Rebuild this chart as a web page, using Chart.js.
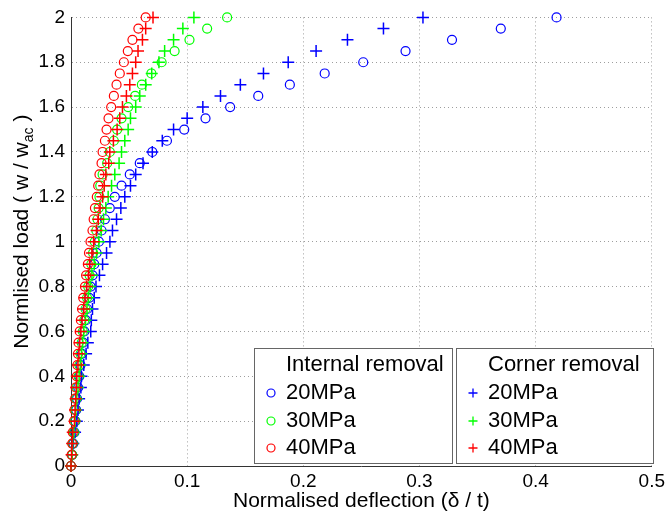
<!DOCTYPE html>
<html>
<head>
<meta charset="utf-8">
<script src="https://cdn.jsdelivr.net/npm/chart.js@4/dist/chart.umd.min.js"></script>
<style>
  html, body { margin: 0; padding: 0; background: #fff; }
  #wrap { width: 669px; height: 515px; }
</style>
</head>
<body>
<div id="wrap"><canvas id="chart" width="669" height="515"></canvas></div>
<script>
// normalised load levels (y)
const loads = [0, 0.05, 0.1, 0.15, 0.2, 0.25, 0.3, 0.35, 0.4, 0.45, 0.5, 0.55, 0.6, 0.65, 0.7, 0.75, 0.8, 0.85, 0.9, 0.95,
               1, 1.05, 1.1, 1.15, 1.2, 1.25, 1.3, 1.35, 1.4, 1.45, 1.5, 1.55, 1.6, 1.65, 1.7, 1.75, 1.8, 1.85, 1.9, 1.95, 2];

// normalised deflection, internal removal
const internal20 = [0, 0.001, 0.002, 0.003, 0.0038, 0.0045, 0.0052, 0.0062, 0.0072, 0.0082, 0.0094, 0.0105, 0.0115, 0.0128, 0.014, 0.0157, 0.0169, 0.0186, 0.02, 0.022,
                    0.024, 0.0263, 0.0292, 0.0334, 0.0377, 0.0435, 0.0506, 0.0592, 0.07, 0.0826, 0.0975, 0.1158, 0.137, 0.1612, 0.1884, 0.2184, 0.2516, 0.288, 0.328, 0.37, 0.418];
const internal30 = [0, 0.001, 0.0015, 0.0025, 0.0035, 0.004, 0.0045, 0.005, 0.0065, 0.0072, 0.0082, 0.0092, 0.0102, 0.0115, 0.0125, 0.0138, 0.0148, 0.016, 0.0175, 0.019,
                    0.0205, 0.0218, 0.0228, 0.0238, 0.0245, 0.0252, 0.0272, 0.0311, 0.0334, 0.0369, 0.0397, 0.0435, 0.0492, 0.0552, 0.061, 0.0692, 0.078, 0.0892, 0.102, 0.1172, 0.1344];
const internal40 = [0, 0.0005, 0.001, 0.0015, 0.0025, 0.003, 0.0035, 0.004, 0.005, 0.0055, 0.006, 0.0065, 0.0075, 0.0085, 0.0095, 0.0105, 0.012, 0.013, 0.0145, 0.0155,
                    0.0168, 0.0185, 0.0195, 0.0206, 0.0222, 0.0234, 0.0245, 0.0263, 0.0272, 0.0292, 0.0306, 0.0323, 0.0346, 0.0369, 0.0392, 0.042, 0.0455, 0.0489, 0.0529, 0.058, 0.0643];

// normalised deflection, corner removal
const corner20 = [0, 0.001, 0.002, 0.0035, 0.005, 0.006, 0.007, 0.0085, 0.009, 0.011, 0.013, 0.0145, 0.017, 0.0175, 0.0185, 0.02, 0.0215, 0.0245, 0.0272, 0.0306,
                  0.0335, 0.0357, 0.0392, 0.0429, 0.0463, 0.0512, 0.0557, 0.062, 0.07, 0.0786, 0.0883, 0.1, 0.1135, 0.1287, 0.1458, 0.1657, 0.187, 0.211, 0.238, 0.269, 0.303];
const corner30 = [0, 0.001, 0.0015, 0.0025, 0.0035, 0.0042, 0.005, 0.006, 0.007, 0.008, 0.009, 0.01, 0.011, 0.0125, 0.0138, 0.015, 0.0165, 0.018, 0.02, 0.022,
                  0.024, 0.026, 0.028, 0.03, 0.032, 0.0349, 0.0377, 0.0414, 0.0435, 0.0463, 0.0492, 0.0512, 0.0557, 0.0592, 0.0643, 0.0695, 0.0757, 0.0806, 0.0883, 0.0963, 0.1058];
const corner40 = [0, 0.0005, 0.001, 0.0015, 0.003, 0.0035, 0.004, 0.0045, 0.005, 0.006, 0.0068, 0.0075, 0.0085, 0.0095, 0.011, 0.012, 0.0135, 0.015, 0.016, 0.018,
                  0.0195, 0.022, 0.0235, 0.025, 0.0272, 0.0286, 0.03, 0.0325, 0.0334, 0.0365, 0.0397, 0.042, 0.0443, 0.0477, 0.0506, 0.0529, 0.0557, 0.0577, 0.0615, 0.0643, 0.0706];

const pressures = ['20MPa', '30MPa', '40MPa'];
const colours = ['#0000ff', '#00ff00', '#ff0000'];

function pts(xs) {
    return xs.map((x, i) => ({ x: x, y: loads[i] }));
}

const FONT = '"Liberation Sans", Arial, sans-serif';

const datasets = [];
[internal20, internal30, internal40].forEach((xs, i) => {
    datasets.push({
        label: 'Internal ' + pressures[i],
        data: pts(xs),
        pointStyle: 'circle',
        pointRadius: 4.5,
        pointBorderWidth: 1.2,
        borderColor: colours[i],
        backgroundColor: 'rgba(0,0,0,0)',
        showLine: false,
        clip: false,
        order: 6 - i
    });
});
[corner20, corner30, corner40].forEach((xs, i) => {
    datasets.push({
        label: 'Corner ' + pressures[i],
        data: pts(xs),
        pointStyle: 'cross',
        pointRadius: 6,
        pointBorderWidth: 1.5,
        borderColor: colours[i],
        backgroundColor: colours[i],
        showLine: false,
        clip: false,
        order: 3 - i
    });
});

// axis titles (y has a subscript) and the two legend boxes
const decorations = {
    id: 'decorations',
    afterDraw(chart) {
        const ctx = chart.ctx;
        const area = chart.chartArea;
        ctx.save();
        ctx.fillStyle = '#000';

        // x title
        ctx.font = '21px ' + FONT;
        ctx.textAlign = 'center';
        ctx.textBaseline = 'alphabetic';
        ctx.fillText('Normalised deflection (\u03b4 / t)', (area.left + area.right) / 2, 507);

        // y title, rotated
        ctx.save();
        ctx.translate(28, (area.top + area.bottom) / 2 - 10);
        ctx.rotate(-Math.PI / 2);
        const main = 'Normlised load ( w / w';
        const sub = 'ac';
        const tail = ' )';
        ctx.font = '21px ' + FONT;
        const wMain = ctx.measureText(main).width;
        const wTail = ctx.measureText(tail).width;
        ctx.font = '14px ' + FONT;
        const wSub = ctx.measureText(sub).width;
        let x0 = -(wMain + wSub + wTail) / 2;
        ctx.textAlign = 'left';
        ctx.font = '21px ' + FONT;
        ctx.fillText(main, x0, 0);
        ctx.font = '14px ' + FONT;
        ctx.fillText(sub, x0 + wMain, 5);
        ctx.font = '21px ' + FONT;
        ctx.fillText(tail, x0 + wMain + wSub, 0);
        ctx.restore();

        // legends
        const boxes = [
            { x: 254.5, title: 'Internal removal', w: 198, style: 'circle' },
            { x: 456.5, title: 'Corner removal', w: 197, style: 'cross' }
        ];
        const top = 348.5, h = 115;
        const rows = [365, 393, 421, 448];
        boxes.forEach(b => {
            ctx.fillStyle = '#fff';
            ctx.fillRect(b.x, top, b.w, h);
            ctx.strokeStyle = '#666';
            ctx.lineWidth = 1;
            ctx.strokeRect(b.x, top, b.w, h);
            ctx.fillStyle = '#000';
            ctx.font = '22px ' + FONT;
            ctx.textAlign = 'left';
            ctx.textBaseline = 'middle';
            ctx.fillText(b.title, b.x + 31.5, rows[0]);
            pressures.forEach((p, i) => {
                const mx = b.x + 16.5, my = rows[i + 1];
                ctx.strokeStyle = colours[i];
                ctx.beginPath();
                if (b.style === 'circle') {
                    ctx.lineWidth = 1.2;
                    ctx.arc(mx, my, 4, 0, Math.PI * 2);
                } else {
                    ctx.lineWidth = 1.3;
                    ctx.moveTo(mx - 4.5, my);
                    ctx.lineTo(mx + 4.5, my);
                    ctx.moveTo(mx, my - 4.5);
                    ctx.lineTo(mx, my + 4.5);
                }
                ctx.stroke();
                ctx.fillStyle = '#000';
                ctx.fillText(p, b.x + 31.5, my);
            });
        });
        ctx.restore();
    }
};

const fmt = v => String(Number(v.toFixed(1)));

new Chart(document.getElementById('chart').getContext('2d'), {
    type: 'scatter',
    data: { datasets: datasets },
    options: {
        responsive: false,
        animation: false,
        devicePixelRatio: 1,
        layout: { padding: { left: 0, top: 14, right: 15, bottom: 0 } },
        plugins: {
            legend: { display: false },
            tooltip: { enabled: false }
        },
        scales: {
            x: {
                type: 'linear',
                min: 0,
                max: 0.5,
                ticks: {
                    stepSize: 0.1,
                    color: '#000',
                    font: { family: FONT, size: 19 },
                    padding: 4,
                    callback: fmt
                },
                grid: { color: 'rgba(0,0,0,0.38)', lineWidth: 1, drawTicks: false },
                border: { display: true, color: '#333', width: 1, dash: [1, 3] },
                afterFit: s => { s.height = 49; }
            },
            y: {
                type: 'linear',
                min: 0,
                max: 2,
                ticks: {
                    stepSize: 0.2,
                    color: '#000',
                    font: { family: FONT, size: 19 },
                    padding: 6,
                    callback: fmt
                },
                grid: { color: 'rgba(0,0,0,0.38)', lineWidth: 1, drawTicks: false },
                border: { display: true, color: '#333', width: 1, dash: [1, 3] },
                afterFit: s => { s.width = 71; }
            }
        }
    },
    plugins: [decorations]
});
</script>
</body>
</html>
